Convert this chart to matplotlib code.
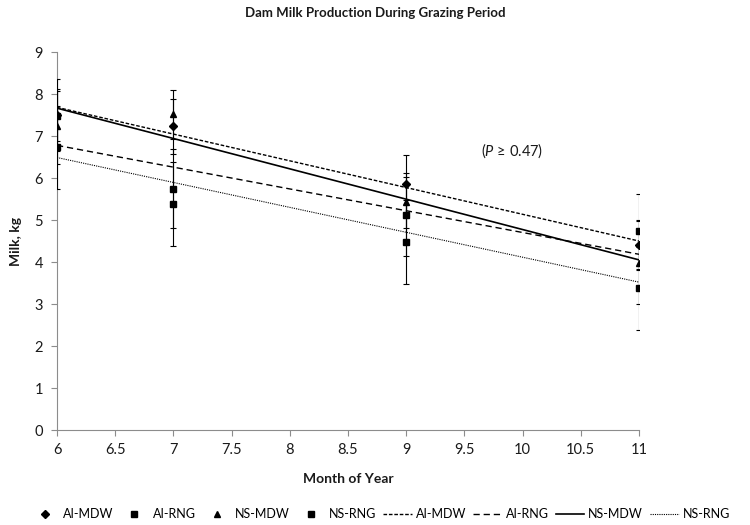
import numpy as np
import matplotlib
matplotlib.use("Agg")
import matplotlib.pyplot as plt
from matplotlib.lines import Line2D
from matplotlib.ticker import FormatStrFormatter

plt.rcParams['font.family'] = ['Lato', 'DejaVu Sans']
plt.rcParams['mathtext.fontset'] = 'custom'
plt.rcParams['mathtext.it'] = 'Lato:italic'
plt.rcParams['mathtext.rm'] = 'Lato'

# ---- data ----
months = [6, 7, 9, 11]
series_names = ['AI-MDW', 'AI-RNG', 'NS-MDW', 'NS-RNG']
ai_mdw = [7.50, 7.23, 5.86, 4.41]
ai_rng = [7.48, 5.75, 4.48, 4.73]
ns_mdw = [7.23, 7.52, 5.42, 3.98]
ns_rng = [6.73, 5.38, 5.13, 3.37]
ai_mdw_se = [0.86, 0.65, 0.69, 0.60]
ai_rng_se = [0.60, 0.95, 1.00, 0.90]
ns_mdw_se = [0.89, 0.58, 0.60, 0.99]
ns_rng_se = [0.99, 0.99, 0.98, 0.98]
x_ticks = [6, 6.5, 7, 7.5, 8, 8.5, 9, 9.5, 10, 10.5, 11]
y_ticks = [0, 1, 2, 3, 4, 5, 6, 7, 8, 9]

values = [ai_mdw, ai_rng, ns_mdw, ns_rng]
errors = [ai_mdw_se, ai_rng_se, ns_mdw_se, ns_rng_se]
markers = [('D', 3.6), ('s', 4.6), ('^', 4.8), ('s', 4.6)]
line_styles = [
    dict(linestyle=(0, (2.6, 1.3)), linewidth=1.0),
    dict(linestyle=(0, (4.5, 2.8)), linewidth=1.0),
    dict(linestyle='-', linewidth=1.2),
    dict(linestyle=(0, (1, 1)), linewidth=0.8),
]

fig = plt.figure(figsize=(7.5, 5.25), dpi=100)
ax = fig.add_axes([57 / 750, 1 - 430 / 525, (639 - 57) / 750, (430 - 52) / 525])

gray = '#8c8c8c'
x_arr = np.array(months, dtype=float)
xfit = np.array([6, 11], dtype=float)

for vals, errs, (mk, ms) in zip(values, errors, markers):
    ax.errorbar(months, vals, yerr=errs, fmt=mk, ms=ms, color='black',
                ecolor='black', elinewidth=0.8, capsize=2.5, capthick=0.8,
                zorder=3)
for vals, ls in zip(values, line_styles):
    b, a = np.polyfit(x_arr, np.array(vals), 1)
    ax.plot(xfit, a + b * xfit, color='black', zorder=2, **ls)

ax.set_xlim(6, 11)
ax.set_ylim(0, 9)
ax.set_xticks(x_ticks)
ax.set_yticks(y_ticks)
ax.xaxis.set_major_formatter(FormatStrFormatter('%g'))
for s in ['top', 'right']:
    ax.spines[s].set_visible(False)
for s in ['left', 'bottom']:
    ax.spines[s].set_color(gray)
    ax.spines[s].set_linewidth(0.8)
ax.tick_params(axis='both', direction='out', length=4, width=0.8, color=gray,
               labelsize=10.5, labelcolor='#1a1a1a')
ax.tick_params(axis='x', pad=5)
ax.tick_params(axis='y', pad=6)

ax.text(9.91, 6.64, r'($\it{P}$ ≥ 0.47)', ha='center', va='center',
        fontsize=10.5, color='#1a1a1a')

fig.text(0.5, 1 - 13 / 525, 'Dam Milk Production During Grazing Period',
         ha='center', va='center', fontsize=9.5, fontweight='bold', color='#1a1a1a')
fig.text(348 / 750, 1 - 479 / 525, 'Month of Year', ha='center', va='center',
         fontsize=10, fontweight='bold', color='#1a1a1a')
fig.text(16 / 750, 1 - 241 / 525, 'Milk, kg', ha='center', va='center',
         rotation=90, fontsize=10, fontweight='bold', color='#1a1a1a')

handles = []
for (mk, ms) in markers:
    handles.append(Line2D([], [], linestyle='none', marker=mk, markersize=ms,
                          color='black'))
for ls in line_styles:
    handles.append(Line2D([], [], color='black', **ls))
labels = series_names + series_names
fig.legend(handles, labels, loc='center', bbox_to_anchor=(380 / 750, 1 - 514 / 525),
           ncol=8, frameon=False, fontsize=9, handlelength=2.3,
           handletextpad=0.3, columnspacing=0.55, borderpad=0, borderaxespad=0)

fig.savefig('out.png', dpi=100)
